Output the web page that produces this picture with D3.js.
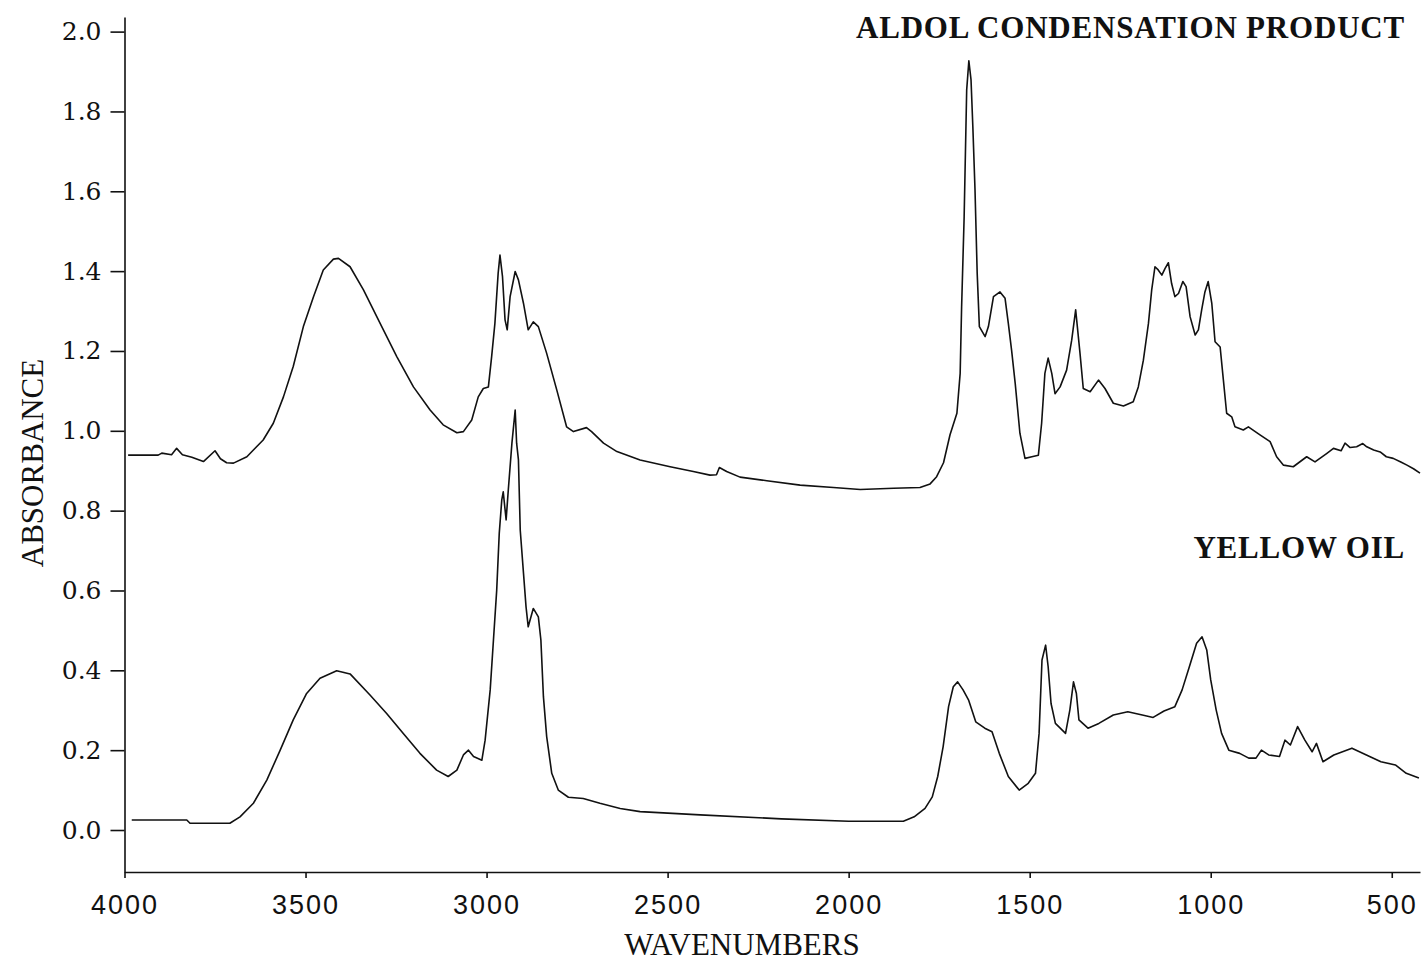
<!DOCTYPE html>
<html>
<head>
<meta charset="utf-8">
<script src="https://cdn.jsdelivr.net/npm/d3@7"></script>
<style>
  html, body { margin: 0; padding: 0; background: #ffffff; }
  svg { display: block; }
</style>
</head>
<body>
<svg id="chart" width="1427" height="962"></svg>
<script>
// ---------- DATA ----------
const xTickValues = [4000, 3500, 3000, 2500, 2000, 1500, 1000, 500];
const yTickValues = [0.0, 0.2, 0.4, 0.6, 0.8, 1.0, 1.2, 1.4, 1.6, 1.8, 2.0];
const seriesNames = ["ALDOL CONDENSATION PRODUCT", "YELLOW OIL"];

const aldolWavenumber = [3990,3907,3897,3870,3856,3840,3814,3782,3750,3735,3718,3699,3662,3644,3617,3589,3561,3534,3506,3478,3451,3423,3409,3377,3340,3294,3248,3202,3156,3120,3082,3064,3041,3023,3009,2995,2986,2977,2968,2963,2956,2949,2943,2935,2921,2912,2898,2885,2871,2857,2834,2806,2779,2760,2724,2710,2677,2640,2576,2493,2429,2383,2365,2357,2337,2300,2226,2134,2042,1968,1876,1803,1775,1757,1738,1720,1701,1692,1688,1681,1674,1668,1662,1657,1651,1645,1639,1623,1614,1600,1582,1568,1559,1550,1540,1527,1513,1494,1476,1467,1458,1449,1439,1430,1416,1398,1384,1373,1361,1352,1333,1310,1292,1269,1241,1214,1200,1186,1172,1163,1154,1145,1135,1126,1117,1108,1099,1089,1077,1068,1057,1043,1034,1025,1016,1007,997,988,974,965,956,942,933,910,896,864,836,818,799,772,735,712,680,661,640,629,615,597,580,569,550,532,515,496,475,458,440,422];
const aldolAbsorbance = [0.939,0.939,0.944,0.940,0.956,0.940,0.934,0.923,0.950,0.930,0.920,0.919,0.935,0.952,0.977,1.019,1.085,1.161,1.261,1.336,1.403,1.430,1.432,1.411,1.353,1.269,1.186,1.110,1.052,1.015,0.995,0.998,1.027,1.085,1.106,1.110,1.186,1.269,1.395,1.440,1.386,1.278,1.253,1.336,1.399,1.378,1.319,1.253,1.273,1.261,1.194,1.102,1.010,0.998,1.008,0.998,0.969,0.948,0.927,0.910,0.898,0.889,0.890,0.908,0.898,0.884,0.875,0.864,0.858,0.853,0.856,0.858,0.867,0.885,0.920,0.990,1.044,1.144,1.311,1.536,1.854,1.927,1.879,1.762,1.603,1.395,1.261,1.236,1.261,1.336,1.348,1.332,1.269,1.202,1.119,0.994,0.931,0.935,0.939,1.019,1.144,1.182,1.144,1.093,1.110,1.152,1.227,1.303,1.194,1.106,1.098,1.127,1.106,1.069,1.062,1.073,1.110,1.177,1.269,1.353,1.411,1.403,1.390,1.407,1.421,1.369,1.336,1.344,1.374,1.361,1.286,1.240,1.253,1.303,1.348,1.374,1.319,1.223,1.210,1.127,1.044,1.035,1.010,1.002,1.010,0.990,0.973,0.935,0.914,0.910,0.935,0.922,0.943,0.956,0.950,0.969,0.958,0.960,0.968,0.960,0.952,0.947,0.935,0.931,0.922,0.914,0.905,0.894];

const yellowWavenumber = [3980,3828,3819,3709,3681,3644,3607,3570,3534,3497,3460,3414,3377,3322,3276,3230,3184,3138,3106,3082,3064,3050,3036,3013,3004,2990,2981,2972,2965,2958,2954,2946,2940,2930,2921,2917,2912,2907,2898,2891,2885,2871,2857,2850,2843,2834,2820,2802,2774,2733,2687,2631,2576,2410,2186,2000,1968,1849,1819,1789,1769,1754,1739,1724,1711,1699,1684,1669,1649,1624,1604,1584,1559,1529,1504,1484,1474,1466,1456,1449,1441,1429,1401,1389,1379,1371,1364,1339,1309,1269,1229,1189,1159,1129,1099,1079,1059,1039,1024,1011,1000,985,970,950,920,895,875,860,840,810,795,780,760,740,720,708,690,660,610,570,530,490,460,425];
const yellowAbsorbance = [0.025,0.025,0.017,0.017,0.033,0.067,0.125,0.200,0.276,0.342,0.380,0.399,0.391,0.338,0.292,0.242,0.192,0.150,0.134,0.150,0.188,0.200,0.184,0.175,0.225,0.351,0.476,0.601,0.743,0.827,0.847,0.777,0.852,0.969,1.052,0.969,0.927,0.751,0.643,0.559,0.509,0.555,0.534,0.476,0.334,0.234,0.142,0.100,0.082,0.079,0.067,0.054,0.046,0.038,0.028,0.022,0.022,0.022,0.033,0.054,0.083,0.134,0.209,0.309,0.359,0.371,0.351,0.326,0.271,0.255,0.246,0.192,0.134,0.100,0.117,0.142,0.242,0.426,0.463,0.409,0.317,0.267,0.242,0.301,0.371,0.342,0.276,0.255,0.267,0.288,0.296,0.288,0.282,0.298,0.309,0.351,0.409,0.468,0.484,0.451,0.376,0.301,0.242,0.200,0.192,0.180,0.180,0.200,0.188,0.184,0.225,0.213,0.259,0.225,0.196,0.217,0.171,0.188,0.205,0.188,0.171,0.163,0.142,0.130];

// ---------- CHART ----------
const svg = d3.select("#chart");
const plotLeft = 124.5, plotRight = 1420, plotTop = 17, plotBottom = 872;

const x = d3.scaleLinear().domain([4000, 422]).range([plotLeft, plotRight]);
const y = d3.scaleLinear().domain([-0.1052, 2.0366]).range([plotBottom, plotTop]);

const ink = "#111";

// Y axis
const yAxis = svg.append("g")
  .attr("transform", `translate(${plotLeft},0)`)
  .call(d3.axisLeft(y).tickValues(yTickValues).tickSize(14).tickPadding(9)
        .tickFormat(d3.format(".1f")).tickSizeOuter(0));
yAxis.select(".domain").attr("stroke", ink).attr("stroke-width", 1.6);
yAxis.selectAll(".tick line").attr("stroke", ink).attr("stroke-width", 1.6);
yAxis.selectAll(".tick text")
  .attr("fill", ink)
  .style("font-family", "'DejaVu Serif', 'Liberation Serif', serif")
  .style("font-size", "25px");

// X axis
const xAxis = svg.append("g")
  .attr("transform", `translate(0,${plotBottom})`)
  .call(d3.axisBottom(x).tickValues(xTickValues).tickSize(6).tickPadding(17)
        .tickFormat(d3.format("d")).tickSizeOuter(0));
xAxis.select(".domain").attr("stroke", ink).attr("stroke-width", 1.6);
xAxis.selectAll(".tick line").attr("stroke", ink).attr("stroke-width", 1.6);
xAxis.selectAll(".tick text")
  .attr("fill", ink)
  .style("font-family", "'Liberation Sans', 'DejaVu Sans', sans-serif")
  .style("font-size", "27px")
  .style("letter-spacing", "2px");

// Axis titles
svg.append("text")
  .attr("x", 742).attr("y", 955)
  .attr("text-anchor", "middle")
  .attr("fill", ink)
  .style("font-family", "'Liberation Serif', 'Times New Roman', serif")
  .style("font-size", "31px")
  .text("WAVENUMBERS");

svg.append("text")
  .attr("transform", "translate(43,463) rotate(-90)")
  .attr("text-anchor", "middle")
  .attr("fill", ink)
  .style("font-family", "'Liberation Serif', 'Times New Roman', serif")
  .style("font-size", "31px")
  .text("ABSORBANCE");

// Curves
const line = d3.line().x(d => x(d[0])).y(d => y(d[1]));
const aldolData = aldolWavenumber.map((w, i) => [w, aldolAbsorbance[i]]);
const yellowData = yellowWavenumber.map((w, i) => [w, yellowAbsorbance[i]]);

[aldolData, yellowData].forEach(data => {
  svg.append("path")
    .datum(data)
    .attr("fill", "none")
    .attr("stroke", ink)
    .attr("stroke-width", 1.6)
    .attr("stroke-linejoin", "round")
    .attr("d", line);
});

// Series labels
const labelY = [38, 558];
seriesNames.forEach((name, i) => {
  svg.append("text")
    .attr("x", 1405).attr("y", labelY[i])
    .attr("text-anchor", "end")
    .attr("fill", ink)
    .style("font-family", "'Liberation Serif', 'Times New Roman', serif")
    .style("font-weight", "bold")
    .style("font-size", "31px")
    .style("letter-spacing", "0.8px")
    .text(name);
});
</script>
</body>
</html>
